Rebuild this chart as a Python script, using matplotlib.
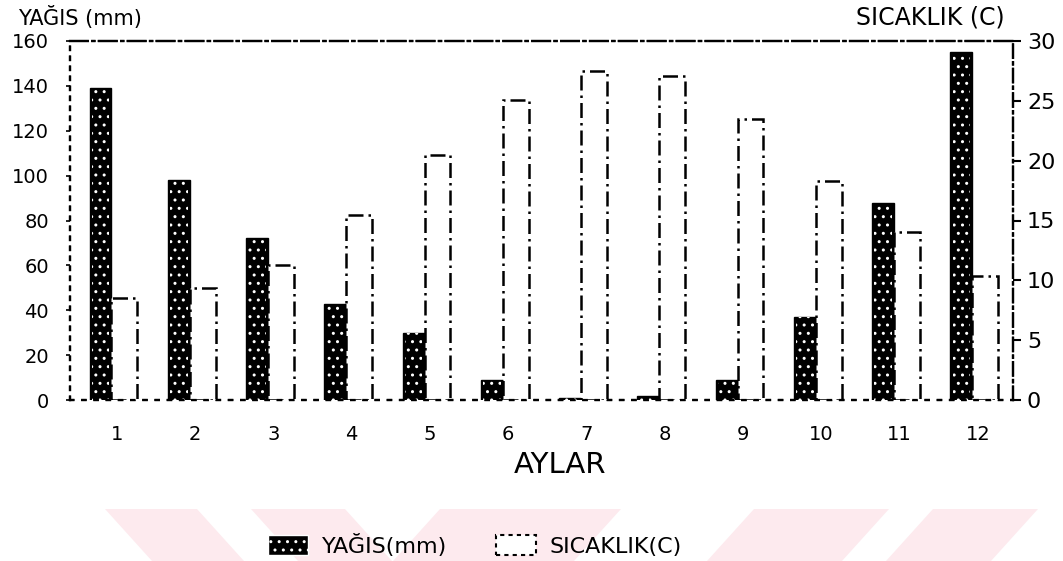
import matplotlib.pyplot as plt
import matplotlib.patches as mpatches
from matplotlib.patches import Polygon
import numpy as np

months = [1, 2, 3, 4, 5, 6, 7, 8, 9, 10, 11, 12]
yagis = [139, 98, 72, 43, 30, 9, 1, 2, 9, 37, 88, 155]          # mm, left axis
sicaklik = [8.5, 9.4, 11.3, 15.5, 20.5, 25.1, 27.5, 27.1, 23.5, 18.3, 14.0, 10.4]  # C, right axis
left_ticks = [0, 20, 40, 60, 80, 100, 120, 140, 160]
right_ticks = [0, 5, 10, 15, 20, 25, 30]

fig = plt.figure(figsize=(10.63, 5.61), dpi=100)

# faint pink watermark stripes at the bottom
wm = "#fdeaee"
for x0, x1, d in [(105, 197, 47), (251, 345, 47), (440, 621, -47), (754, 889, -47), (933, 1038, -47)]:
    pts = [(x0, 509), (x1, 509), (x1 + d, 561), (x0 + d, 561)]
    fig.patches.append(Polygon([(x / 1063, 1 - y / 561) for x, y in pts],
                               closed=True, transform=fig.transFigure,
                               facecolor=wm, edgecolor="none", zorder=0))

ax = fig.add_axes([70 / 1063, 1 - 400 / 561, (1013 - 70) / 1063, (400 - 41) / 561])
ax2 = ax.twinx()

x = np.array(months)
wb, wt = 0.28, 0.33
xb = x - 0.07 - wb / 2
xt = x - 0.07 + wt / 2
ax.bar(xb, yagis, width=wb, color="black", edgecolor="black", lw=1, zorder=2)
ax.bar(xb, yagis, width=wb * 0.8, color="none", edgecolor="white",
       hatch="..", lw=0, zorder=3)
ax2.bar(xt, sicaklik, width=wt, color="white", edgecolor="black",
        lw=1.8, linestyle=(0, (6, 2, 1, 2)), zorder=2)

ax.set_xlim(0.4, 12.45)
ax.set_ylim(0, 160)
ax2.set_ylim(0, 30)
ax.set_xticks(months)
ax.set_yticks(left_ticks)
ax2.set_yticks(right_ticks)
ax.tick_params(axis="x", length=0, pad=18, labelsize=14)
ax.tick_params(axis="y", length=3, width=1.2, pad=12, labelsize=14)
ax2.tick_params(axis="y", length=6, width=1.5, pad=4, labelsize=16)

for a in (ax, ax2):
    for s in a.spines.values():
        s.set_linewidth(1.6)
    a.spines["top"].set_linestyle((0, (8, 2, 1, 2)))
    a.spines["bottom"].set_linestyle((0, (1.5, 4)))
    a.spines["left"].set_linestyle((0, (1.5, 3)))
    a.spines["right"].set_linestyle((0, (6, 2, 1, 2)))

fig.text(18 / 1063, 1 - 18 / 561, "YAĞIS (mm)", fontsize=15, ha="left", va="center")
fig.text(1005 / 1063, 1 - 18 / 561, "SICAKLIK (C)", fontsize=17, ha="right", va="center")
fig.text(560 / 1063, 1 - 465 / 561, "AYLAR", fontsize=21, ha="center", va="center")

h1 = mpatches.Patch(facecolor="black", edgecolor="white", hatch="..")
h2 = mpatches.Patch(facecolor="white", edgecolor="black", linestyle=(0, (2, 2)), lw=1.5)
fig.legend([h1, h2], ["YAĞIS(mm)", "SICAKLIK(C)"], loc="center",
           bbox_to_anchor=(475 / 1063, 1 - 545 / 561), ncol=2, frameon=False,
           fontsize=16, handlelength=1.8, handleheight=1.0, handletextpad=0.6,
           columnspacing=2.2)

fig.savefig("out.png", dpi=100)
